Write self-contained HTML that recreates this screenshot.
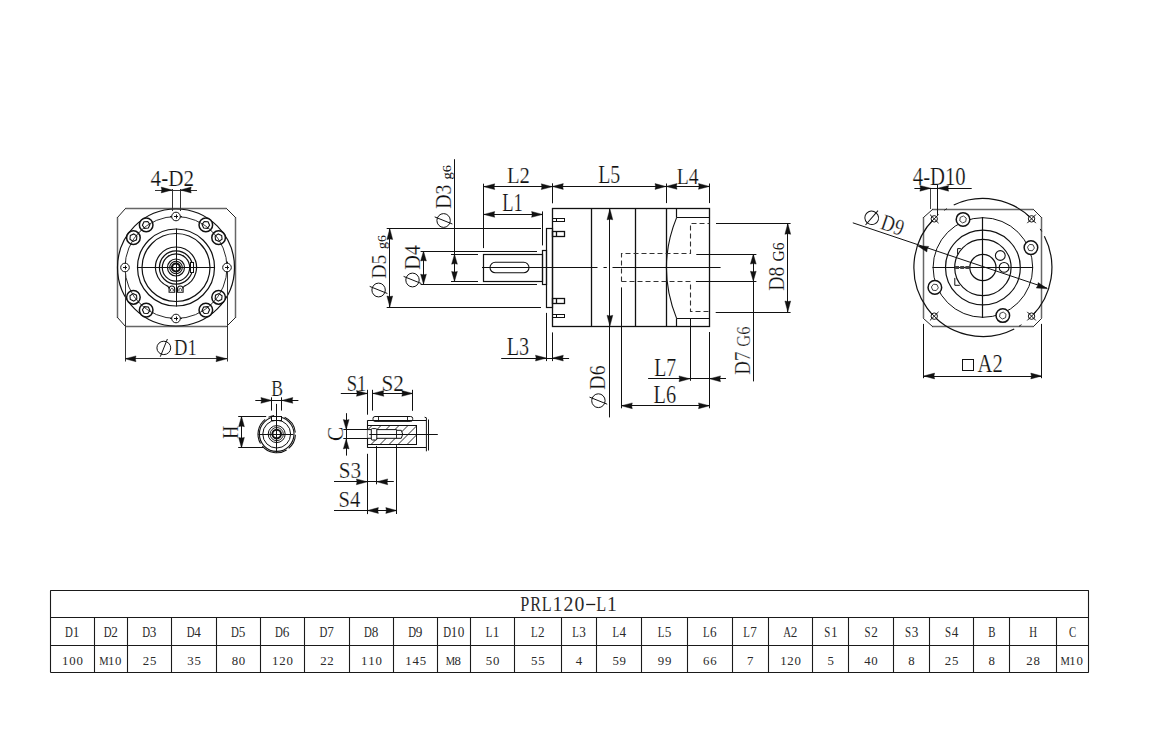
<!DOCTYPE html>
<html><head><meta charset="utf-8"><title>PRL120-L1</title>
<style>html,body{margin:0;padding:0;background:#fff;width:1161px;height:738px;overflow:hidden}svg{display:block}</style>
</head><body><svg width="1161" height="738" viewBox="0 0 1161 738"><line x1="125.50" y1="208.50" x2="226.50" y2="208.50" stroke="#666" stroke-width="1.5"/>
<line x1="125.50" y1="326.50" x2="226.50" y2="326.50" stroke="#666" stroke-width="1.5"/>
<line x1="117.50" y1="217.30" x2="117.50" y2="317.80" stroke="#666" stroke-width="1.5"/>
<line x1="235.50" y1="217.30" x2="235.50" y2="317.80" stroke="#666" stroke-width="1.5"/>
<line x1="125.5" y1="208.5" x2="117.5" y2="217.5" stroke="#222" stroke-width="1.0" stroke-linecap="round"/>
<line x1="226.5" y1="208.5" x2="235.5" y2="217.5" stroke="#222" stroke-width="1.0" stroke-linecap="round"/>
<line x1="117.5" y1="317.5" x2="125.5" y2="326.5" stroke="#222" stroke-width="1.0" stroke-linecap="round"/>
<line x1="235.5" y1="317.5" x2="226.5" y2="326.5" stroke="#222" stroke-width="1.0" stroke-linecap="round"/>
<circle cx="176.00" cy="267.50" r="58.50" fill="none" stroke="#111" stroke-width="1.2"/>
<circle cx="176.00" cy="267.50" r="51.00" fill="none" stroke="#111" stroke-width="0.9"/>
<circle cx="176.00" cy="267.50" r="38.50" fill="none" stroke="#111" stroke-width="1.2"/>
<circle cx="176.00" cy="267.50" r="34.00" fill="none" stroke="#111" stroke-width="1.2"/>
<circle cx="218.60" cy="297.33" r="6.80" fill="#fff" stroke="#111" stroke-width="1.5"/>
<polygon points="221.71,299.51 218.26,301.11 215.15,298.93 215.48,295.15 218.93,293.54 222.04,295.72" fill="none" stroke="#111" stroke-width="1.1"/>
<path d="M221.44,290.65 A51.00,51.00 0 0 1 213.30,302.28" fill="none" stroke="#111" stroke-width="0.8"/>
<circle cx="205.83" cy="310.10" r="6.80" fill="#fff" stroke="#111" stroke-width="1.5"/>
<polygon points="208.01,313.21 204.22,313.54 202.04,310.43 203.65,306.98 207.43,306.65 209.61,309.76" fill="none" stroke="#111" stroke-width="1.1"/>
<path d="M210.78,304.80 A51.00,51.00 0 0 1 199.15,312.94" fill="none" stroke="#111" stroke-width="0.8"/>
<circle cx="146.17" cy="310.10" r="6.80" fill="#fff" stroke="#111" stroke-width="1.5"/>
<polygon points="143.99,313.21 142.39,309.76 144.57,306.65 148.35,306.98 149.96,310.43 147.78,313.54" fill="none" stroke="#111" stroke-width="1.1"/>
<path d="M152.85,312.94 A51.00,51.00 0 0 1 141.22,304.80" fill="none" stroke="#111" stroke-width="0.8"/>
<circle cx="133.40" cy="297.33" r="6.80" fill="#fff" stroke="#111" stroke-width="1.5"/>
<polygon points="130.29,299.51 129.96,295.72 133.07,293.54 136.52,295.15 136.85,298.93 133.74,301.11" fill="none" stroke="#111" stroke-width="1.1"/>
<path d="M138.70,302.28 A51.00,51.00 0 0 1 130.56,290.65" fill="none" stroke="#111" stroke-width="0.8"/>
<circle cx="133.40" cy="237.67" r="6.80" fill="#fff" stroke="#111" stroke-width="1.5"/>
<polygon points="130.29,235.49 133.74,233.89 136.85,236.07 136.52,239.85 133.07,241.46 129.96,239.28" fill="none" stroke="#111" stroke-width="1.1"/>
<path d="M130.56,244.35 A51.00,51.00 0 0 1 138.70,232.72" fill="none" stroke="#111" stroke-width="0.8"/>
<circle cx="146.17" cy="224.90" r="6.80" fill="#fff" stroke="#111" stroke-width="1.5"/>
<polygon points="143.99,221.79 147.78,221.46 149.96,224.57 148.35,228.02 144.57,228.35 142.39,225.24" fill="none" stroke="#111" stroke-width="1.1"/>
<path d="M141.22,230.20 A51.00,51.00 0 0 1 152.85,222.06" fill="none" stroke="#111" stroke-width="0.8"/>
<circle cx="205.83" cy="224.90" r="6.80" fill="#fff" stroke="#111" stroke-width="1.5"/>
<polygon points="208.01,221.79 209.61,225.24 207.43,228.35 203.65,228.02 202.04,224.57 204.22,221.46" fill="none" stroke="#111" stroke-width="1.1"/>
<path d="M199.15,222.06 A51.00,51.00 0 0 1 210.78,230.20" fill="none" stroke="#111" stroke-width="0.8"/>
<circle cx="218.60" cy="237.67" r="6.80" fill="#fff" stroke="#111" stroke-width="1.5"/>
<polygon points="221.71,235.49 222.04,239.28 218.93,241.46 215.48,239.85 215.15,236.07 218.26,233.89" fill="none" stroke="#111" stroke-width="1.1"/>
<path d="M213.30,232.72 A51.00,51.00 0 0 1 221.44,244.35" fill="none" stroke="#111" stroke-width="0.8"/>
<circle cx="227.00" cy="267.50" r="4.30" fill="#fff" stroke="#111" stroke-width="1.0"/>
<line x1="225.00" y1="267.50" x2="229.00" y2="267.50" stroke="#111" stroke-width="1.0"/>
<line x1="227.50" y1="265.50" x2="227.50" y2="269.50" stroke="#111" stroke-width="1.0"/>
<line x1="227.50" y1="263.20" x2="227.50" y2="261.60" stroke="#111" stroke-width="1.0"/>
<line x1="227.50" y1="271.80" x2="227.50" y2="273.40" stroke="#111" stroke-width="1.0"/>
<circle cx="176.00" cy="318.50" r="4.30" fill="#fff" stroke="#111" stroke-width="1.0"/>
<line x1="174.00" y1="318.50" x2="178.00" y2="318.50" stroke="#111" stroke-width="1.0"/>
<line x1="176.50" y1="316.50" x2="176.50" y2="320.50" stroke="#111" stroke-width="1.0"/>
<line x1="180.30" y1="318.50" x2="181.90" y2="318.50" stroke="#111" stroke-width="1.0"/>
<line x1="171.70" y1="318.50" x2="170.10" y2="318.50" stroke="#111" stroke-width="1.0"/>
<circle cx="125.00" cy="267.50" r="4.30" fill="#fff" stroke="#111" stroke-width="1.0"/>
<line x1="123.00" y1="267.50" x2="127.00" y2="267.50" stroke="#111" stroke-width="1.0"/>
<line x1="125.50" y1="265.50" x2="125.50" y2="269.50" stroke="#111" stroke-width="1.0"/>
<line x1="125.50" y1="271.80" x2="125.50" y2="273.40" stroke="#111" stroke-width="1.0"/>
<line x1="125.50" y1="263.20" x2="125.50" y2="261.60" stroke="#111" stroke-width="1.0"/>
<circle cx="176.00" cy="216.50" r="4.30" fill="#fff" stroke="#111" stroke-width="1.0"/>
<line x1="174.00" y1="216.50" x2="178.00" y2="216.50" stroke="#111" stroke-width="1.0"/>
<line x1="176.50" y1="214.50" x2="176.50" y2="218.50" stroke="#111" stroke-width="1.0"/>
<line x1="171.70" y1="216.50" x2="170.10" y2="216.50" stroke="#111" stroke-width="1.0"/>
<line x1="180.30" y1="216.50" x2="181.90" y2="216.50" stroke="#111" stroke-width="1.0"/>
<path d="M167.99,286.37 A20.50,20.50 0 1 1 184.01,286.37" fill="none" stroke="#111" stroke-width="1.2"/>
<circle cx="176.00" cy="267.50" r="16.60" fill="none" stroke="#111" stroke-width="1.2"/>
<circle cx="176.00" cy="267.50" r="13.70" fill="none" stroke="#111" stroke-width="1.2"/>
<circle cx="176.00" cy="267.50" r="8.50" fill="none" stroke="#111" stroke-width="1.2"/>
<circle cx="176.00" cy="267.50" r="6.30" fill="none" stroke="#111" stroke-width="1.1"/>
<circle cx="176.00" cy="267.50" r="4.00" fill="none" stroke="#111" stroke-width="2.2"/>
<rect x="190.50" y="262.50" width="3.00" height="10.00" fill="#fff" stroke="#111" stroke-width="1.0"/>
<path d="M169.10,292.3 L169.10,289.0 Q169.10,286.0 171.90,286.0 Q174.70,286.0 174.70,289.0 L174.70,292.3 Z" fill="#fff" stroke="#111" stroke-width="1.1"/>
<path d="M170.50,291 L170.50,289.3 Q171.90,287.3 173.30,289.3 L173.30,291" fill="none" stroke="#111" stroke-width="0.8"/>
<path d="M177.50,292.3 L177.50,289.0 Q177.50,286.0 180.30,286.0 Q183.10,286.0 183.10,289.0 L183.10,292.3 Z" fill="#fff" stroke="#111" stroke-width="1.1"/>
<path d="M178.90,291 L178.90,289.3 Q180.30,287.3 181.70,289.3 L181.70,291" fill="none" stroke="#111" stroke-width="0.8"/>
<line x1="167.80" y1="286.10" x2="169.10" y2="288.50" stroke="#111" stroke-width="1.1"/>
<line x1="183.40" y1="286.10" x2="183.10" y2="288.50" stroke="#111" stroke-width="1.1"/>
<line x1="176.50" y1="228.50" x2="176.50" y2="306.50" stroke="#111" stroke-width="1.0"/>
<line x1="137.50" y1="267.50" x2="214.50" y2="267.50" stroke="#111" stroke-width="1.0"/>
<line x1="172.50" y1="189.00" x2="172.50" y2="211.00" stroke="#333" stroke-width="1.0"/>
<line x1="180.50" y1="189.00" x2="180.50" y2="211.00" stroke="#333" stroke-width="1.0"/>
<line x1="155.00" y1="190.50" x2="197.00" y2="190.50" stroke="#333" stroke-width="1.0"/>
<polygon points="172.20,190.00 161.20,192.90 161.80,190.00 161.20,187.10" fill="#111" stroke="#111" stroke-width="0.4"/>
<polygon points="180.20,190.00 191.20,187.10 190.60,190.00 191.20,192.90" fill="#111" stroke="#111" stroke-width="0.4"/>
<g transform="translate(150.58,185.94) rotate(0) scale(0.889,1)"><text x="0" y="0" font-family='"Liberation Serif", serif' font-size="23.76" fill="#111" stroke="#fff" stroke-width="0.22" text-anchor="start">4-D2</text></g>
<line x1="125.50" y1="271.00" x2="125.50" y2="361.50" stroke="#333" stroke-width="1.0"/>
<line x1="227.50" y1="271.00" x2="227.50" y2="361.50" stroke="#333" stroke-width="1.0"/>
<line x1="125.00" y1="358.50" x2="227.00" y2="358.50" stroke="#333" stroke-width="1.0"/>
<polygon points="125.00,358.80 136.00,355.90 135.40,358.80 136.00,361.70" fill="#111" stroke="#111" stroke-width="0.4"/>
<polygon points="227.00,358.80 216.00,361.70 216.60,358.80 216.00,355.90" fill="#111" stroke="#111" stroke-width="0.4"/>
<g transform="translate(163.80,347.90) rotate(0)"><ellipse cx="0" cy="0" rx="6.9" ry="6.7" fill="none" stroke="#111" stroke-width="1.0"/><line x1="-3.5" y1="8.8" x2="3.6" y2="-8.9" stroke="#111" stroke-width="1.0"/></g>
<g transform="translate(173.94,354.64) rotate(0) scale(0.786,1)"><text x="0" y="0" font-family='"Liberation Serif", serif' font-size="23.7" fill="#111" stroke="#fff" stroke-width="0.22" text-anchor="start">D1</text></g>
<rect x="483.50" y="254.50" width="59.00" height="27.00" fill="none" stroke="#111" stroke-width="1.2"/>
<rect x="490" y="262.3" width="39" height="10.5" rx="5.25" fill="none" stroke="#111" stroke-width="1.1"/>
<rect x="542.50" y="250.50" width="4.00" height="34.00" fill="none" stroke="#111" stroke-width="1.2"/>
<rect x="546.50" y="228.50" width="6.00" height="79.00" fill="none" stroke="#111" stroke-width="1.2"/>
<rect x="552.50" y="208.50" width="157.00" height="118.00" fill="none" stroke="#111" stroke-width="1.3"/>
<line x1="591.50" y1="208.80" x2="591.50" y2="326.30" stroke="#111" stroke-width="1.3"/>
<line x1="635.50" y1="208.80" x2="635.50" y2="326.30" stroke="#111" stroke-width="1.3"/>
<line x1="666.50" y1="208.80" x2="666.50" y2="326.30" stroke="#111" stroke-width="1.3"/>
<line x1="676.50" y1="208.80" x2="676.50" y2="217.60" stroke="#111" stroke-width="1.2"/>
<line x1="676.50" y1="318.40" x2="676.50" y2="326.30" stroke="#111" stroke-width="1.2"/>
<line x1="676.60" y1="217.50" x2="709.50" y2="217.50" stroke="#111" stroke-width="1.2"/>
<line x1="676.60" y1="318.50" x2="709.50" y2="318.50" stroke="#111" stroke-width="1.2"/>
<path d="M676.6,217.6 Q656.2,267.5 676.6,318.4" fill="none" stroke="#111" stroke-width="1.1"/>
<rect x="552.50" y="218.50" width="12.00" height="3.00" fill="none" stroke="#111" stroke-width="1.0"/>
<line x1="556.50" y1="218.20" x2="556.50" y2="221.40" stroke="#111" stroke-width="1.0"/>
<rect x="552.50" y="231.50" width="12.00" height="5.00" fill="none" stroke="#111" stroke-width="1.3"/>
<line x1="556.50" y1="231.40" x2="556.50" y2="236.30" stroke="#111" stroke-width="1.3"/>
<rect x="552.50" y="298.50" width="12.00" height="5.00" fill="none" stroke="#111" stroke-width="1.3"/>
<line x1="556.50" y1="298.70" x2="556.50" y2="303.60" stroke="#111" stroke-width="1.3"/>
<rect x="552.50" y="314.50" width="12.00" height="3.00" fill="none" stroke="#111" stroke-width="1.0"/>
<line x1="556.50" y1="314.40" x2="556.50" y2="317.40" stroke="#111" stroke-width="1.0"/>
<polyline points="621.50,281.50 621.50,253.50 690.50,253.50 690.50,223.50 709.50,223.50" fill="none" stroke="#333" stroke-width="1.1" stroke-dasharray="5,3"/>
<polyline points="621.50,281.50 690.50,281.50 690.50,311.50 709.50,311.50" fill="none" stroke="#333" stroke-width="1.1" stroke-dasharray="5,3"/>
<line x1="482.00" y1="267.50" x2="597.50" y2="267.50" stroke="#111" stroke-width="1.0"/>
<line x1="603.50" y1="267.50" x2="606.80" y2="267.50" stroke="#111" stroke-width="1.0"/>
<line x1="612.50" y1="267.50" x2="720.60" y2="267.50" stroke="#111" stroke-width="1.0"/>
<line x1="451.00" y1="254.50" x2="478.00" y2="254.50" stroke="#111" stroke-width="1.0"/>
<line x1="451.00" y1="281.50" x2="478.00" y2="281.50" stroke="#111" stroke-width="1.0"/>
<line x1="420.60" y1="251.50" x2="537.00" y2="251.50" stroke="#111" stroke-width="1.0"/>
<line x1="420.60" y1="284.50" x2="537.00" y2="284.50" stroke="#111" stroke-width="1.0"/>
<line x1="386.70" y1="228.50" x2="541.00" y2="228.50" stroke="#111" stroke-width="1.0"/>
<line x1="386.70" y1="307.50" x2="541.00" y2="307.50" stroke="#111" stroke-width="1.0"/>
<line x1="389.50" y1="228.50" x2="389.50" y2="307.00" stroke="#111" stroke-width="1.0"/>
<polygon points="389.80,228.50 392.70,239.50 389.80,238.90 386.90,239.50" fill="#111" stroke="#111" stroke-width="0.4"/>
<polygon points="389.80,307.00 386.90,296.00 389.80,296.60 392.70,296.00" fill="#111" stroke="#111" stroke-width="0.4"/>
<line x1="423.50" y1="251.00" x2="423.50" y2="284.20" stroke="#111" stroke-width="1.0"/>
<polygon points="423.50,251.00 426.40,261.00 423.50,260.40 420.60,261.00" fill="#111" stroke="#111" stroke-width="0.4"/>
<polygon points="423.50,284.20 420.60,274.20 423.50,274.80 426.40,274.20" fill="#111" stroke="#111" stroke-width="0.4"/>
<line x1="454.50" y1="159.20" x2="454.50" y2="281.50" stroke="#111" stroke-width="1.0"/>
<polygon points="454.50,254.20 457.40,264.20 454.50,263.60 451.60,264.20" fill="#111" stroke="#111" stroke-width="0.4"/>
<polygon points="454.50,281.40 451.60,271.40 454.50,272.00 457.40,271.40" fill="#111" stroke="#111" stroke-width="0.4"/>
<line x1="483.50" y1="183.70" x2="483.50" y2="248.10" stroke="#111" stroke-width="1.0"/>
<line x1="542.50" y1="211.40" x2="542.50" y2="245.40" stroke="#111" stroke-width="1.0"/>
<line x1="552.50" y1="183.30" x2="552.50" y2="203.30" stroke="#111" stroke-width="1.0"/>
<line x1="666.50" y1="183.50" x2="666.50" y2="203.10" stroke="#111" stroke-width="1.0"/>
<line x1="709.50" y1="183.50" x2="709.50" y2="203.10" stroke="#111" stroke-width="1.0"/>
<line x1="483.70" y1="186.50" x2="552.30" y2="186.50" stroke="#111" stroke-width="1.0"/>
<polygon points="483.70,186.70 494.70,183.80 494.10,186.70 494.70,189.60" fill="#111" stroke="#111" stroke-width="0.4"/>
<polygon points="552.30,186.70 541.30,189.60 541.90,186.70 541.30,183.80" fill="#111" stroke="#111" stroke-width="0.4"/>
<line x1="552.30" y1="186.50" x2="666.00" y2="186.50" stroke="#111" stroke-width="1.0"/>
<polygon points="552.30,186.50 563.30,183.60 562.70,186.50 563.30,189.40" fill="#111" stroke="#111" stroke-width="0.4"/>
<polygon points="666.00,186.50 655.00,189.40 655.60,186.50 655.00,183.60" fill="#111" stroke="#111" stroke-width="0.4"/>
<line x1="666.00" y1="186.50" x2="709.50" y2="186.50" stroke="#111" stroke-width="1.0"/>
<polygon points="666.00,186.40 677.00,183.50 676.40,186.40 677.00,189.30" fill="#111" stroke="#111" stroke-width="0.4"/>
<polygon points="709.50,186.40 698.50,189.30 699.10,186.40 698.50,183.50" fill="#111" stroke="#111" stroke-width="0.4"/>
<line x1="483.70" y1="214.50" x2="542.60" y2="214.50" stroke="#111" stroke-width="1.0"/>
<polygon points="483.70,214.40 494.70,211.50 494.10,214.40 494.70,217.30" fill="#111" stroke="#111" stroke-width="0.4"/>
<polygon points="542.60,214.40 531.60,217.30 532.20,214.40 531.60,211.50" fill="#111" stroke="#111" stroke-width="0.4"/>
<line x1="546.50" y1="312.90" x2="546.50" y2="361.10" stroke="#111" stroke-width="1.0"/>
<line x1="552.50" y1="332.40" x2="552.50" y2="361.10" stroke="#111" stroke-width="1.0"/>
<line x1="501.20" y1="358.50" x2="569.10" y2="358.50" stroke="#111" stroke-width="1.0"/>
<polygon points="546.50,358.10 535.50,361.00 536.10,358.10 535.50,355.20" fill="#111" stroke="#111" stroke-width="0.4"/>
<polygon points="552.30,358.10 563.30,355.20 562.70,358.10 563.30,361.00" fill="#111" stroke="#111" stroke-width="0.4"/>
<line x1="609.50" y1="208.80" x2="609.50" y2="417.40" stroke="#111" stroke-width="1.0"/>
<polygon points="609.90,208.80 612.80,219.80 609.90,219.20 607.00,219.80" fill="#111" stroke="#111" stroke-width="0.4"/>
<polygon points="609.90,326.30 607.00,315.30 609.90,315.90 612.80,315.30" fill="#111" stroke="#111" stroke-width="0.4"/>
<line x1="621.50" y1="287.40" x2="621.50" y2="408.30" stroke="#111" stroke-width="1.0"/>
<line x1="709.50" y1="332.00" x2="709.50" y2="408.30" stroke="#111" stroke-width="1.0"/>
<line x1="690.50" y1="318.40" x2="690.50" y2="380.80" stroke="#111" stroke-width="1.0"/>
<line x1="621.30" y1="405.50" x2="709.50" y2="405.50" stroke="#111" stroke-width="1.0"/>
<polygon points="621.30,405.80 632.30,402.90 631.70,405.80 632.30,408.70" fill="#111" stroke="#111" stroke-width="0.4"/>
<polygon points="709.50,405.80 698.50,408.70 699.10,405.80 698.50,402.90" fill="#111" stroke="#111" stroke-width="0.4"/>
<line x1="648.10" y1="378.50" x2="726.00" y2="378.50" stroke="#111" stroke-width="1.0"/>
<polygon points="690.00,378.80 679.00,381.70 679.60,378.80 679.00,375.90" fill="#111" stroke="#111" stroke-width="0.4"/>
<polygon points="709.50,378.80 720.50,375.90 719.90,378.80 720.50,381.70" fill="#111" stroke="#111" stroke-width="0.4"/>
<line x1="696.30" y1="254.50" x2="756.40" y2="254.50" stroke="#111" stroke-width="1.0"/>
<line x1="695.90" y1="281.50" x2="756.40" y2="281.50" stroke="#111" stroke-width="1.0"/>
<line x1="753.50" y1="254.10" x2="753.50" y2="381.40" stroke="#111" stroke-width="1.0"/>
<polygon points="753.30,254.10 756.20,264.10 753.30,263.50 750.40,264.10" fill="#111" stroke="#111" stroke-width="0.4"/>
<polygon points="753.30,281.20 750.40,271.20 753.30,271.80 756.20,271.20" fill="#111" stroke="#111" stroke-width="0.4"/>
<line x1="716.00" y1="223.50" x2="790.60" y2="223.50" stroke="#111" stroke-width="1.0"/>
<line x1="715.70" y1="312.50" x2="790.60" y2="312.50" stroke="#111" stroke-width="1.0"/>
<line x1="787.50" y1="223.30" x2="787.50" y2="312.00" stroke="#111" stroke-width="1.0"/>
<polygon points="787.80,223.30 790.70,234.30 787.80,233.70 784.90,234.30" fill="#111" stroke="#111" stroke-width="0.4"/>
<polygon points="787.80,312.00 784.90,301.00 787.80,301.60 790.70,301.00" fill="#111" stroke="#111" stroke-width="0.4"/>
<g transform="translate(506.88,183.40) rotate(0) scale(0.862,1)"><text x="0" y="0" font-family='"Liberation Serif", serif' font-size="24.0" fill="#111" stroke="#fff" stroke-width="0.22" text-anchor="start">L2</text></g>
<g transform="translate(502.14,211.40) rotate(0) scale(0.75,1)"><text x="0" y="0" font-family='"Liberation Serif", serif' font-size="24.7" fill="#111" stroke="#fff" stroke-width="0.22" text-anchor="start">L1</text></g>
<g transform="translate(598.20,183.26) rotate(0) scale(0.817,1)"><text x="0" y="0" font-family='"Liberation Serif", serif' font-size="24.36" fill="#111" stroke="#fff" stroke-width="0.22" text-anchor="start">L5</text></g>
<g transform="translate(676.71,183.50) rotate(0) scale(0.826,1)"><text x="0" y="0" font-family='"Liberation Serif", serif' font-size="23.88" fill="#111" stroke="#fff" stroke-width="0.22" text-anchor="start">L4</text></g>
<g transform="translate(506.79,355.45) rotate(0) scale(0.813,1)"><text x="0" y="0" font-family='"Liberation Serif", serif' font-size="24.83" fill="#111" stroke="#fff" stroke-width="0.22" text-anchor="start">L3</text></g>
<g transform="translate(654.21,375.70) rotate(0) scale(0.801,1)"><text x="0" y="0" font-family='"Liberation Serif", serif' font-size="24.73" fill="#111" stroke="#fff" stroke-width="0.22" text-anchor="start">L7</text></g>
<g transform="translate(653.59,402.96) rotate(0) scale(0.841,1)"><text x="0" y="0" font-family='"Liberation Serif", serif' font-size="24.24" fill="#111" stroke="#fff" stroke-width="0.22" text-anchor="start">L6</text></g>
<line x1="932.10" y1="209.50" x2="1033.50" y2="209.50" stroke="#666" stroke-width="1.5"/>
<line x1="932.10" y1="326.50" x2="1033.50" y2="326.50" stroke="#666" stroke-width="1.5"/>
<line x1="923.50" y1="217.30" x2="923.50" y2="318.00" stroke="#666" stroke-width="1.5"/>
<line x1="1041.50" y1="217.30" x2="1041.50" y2="318.00" stroke="#666" stroke-width="1.5"/>
<line x1="932.5" y1="209.5" x2="923.5" y2="217.5" stroke="#222" stroke-width="1.0" stroke-linecap="round"/>
<line x1="1033.5" y1="209.5" x2="1041.5" y2="217.5" stroke="#222" stroke-width="1.0" stroke-linecap="round"/>
<line x1="923.5" y1="318.5" x2="932.5" y2="326.5" stroke="#222" stroke-width="1.0" stroke-linecap="round"/>
<line x1="1041.5" y1="318.5" x2="1033.5" y2="326.5" stroke="#222" stroke-width="1.0" stroke-linecap="round"/>
<circle cx="982.90" cy="267.50" r="37.40" fill="none" stroke="#111" stroke-width="1.2"/>
<circle cx="982.90" cy="267.50" r="28.20" fill="none" stroke="#111" stroke-width="1.2"/>
<circle cx="982.90" cy="267.50" r="13.10" fill="none" stroke="#111" stroke-width="1.2"/>
<circle cx="982.90" cy="267.50" r="49.80" fill="none" stroke="#111" stroke-width="1.0"/>
<path d="M1014.23,328.98 A69.00,69.00 0 0 1 934.11,218.71" fill="none" stroke="#111" stroke-width="1.2"/>
<path d="M953.74,204.96 A69.00,69.00 0 0 1 1031.69,218.71" fill="none" stroke="#111" stroke-width="1.2"/>
<path d="M1044.38,236.17 A69.00,69.00 0 0 1 1031.69,316.29" fill="none" stroke="#111" stroke-width="1.2"/>
<path d="M944.32,210.30 A69.00,69.00 0 0 1 946.85,208.67" fill="none" stroke="#111" stroke-width="1.0"/>
<path d="M1040.10,228.92 A69.00,69.00 0 0 1 1041.73,231.45" fill="none" stroke="#111" stroke-width="1.0"/>
<path d="M1021.48,324.70 A69.00,69.00 0 0 1 1018.95,326.33" fill="none" stroke="#111" stroke-width="1.0"/>
<circle cx="1002.80" cy="315.54" r="6.80" fill="#fff" stroke="#111" stroke-width="1.5"/>
<polygon points="1002.34,319.01 999.57,316.88 1000.02,313.41 1003.26,312.07 1006.03,314.20 1005.58,317.67" fill="none" stroke="#111" stroke-width="0.8"/>
<circle cx="934.86" cy="287.40" r="6.80" fill="#fff" stroke="#111" stroke-width="1.5"/>
<polygon points="931.39,286.94 933.52,284.17 936.99,284.62 938.33,287.86 936.20,290.63 932.73,290.18" fill="none" stroke="#111" stroke-width="0.8"/>
<circle cx="963.00" cy="219.46" r="6.80" fill="#fff" stroke="#111" stroke-width="1.5"/>
<polygon points="963.46,215.99 966.23,218.12 965.78,221.59 962.54,222.93 959.77,220.80 960.22,217.33" fill="none" stroke="#111" stroke-width="0.8"/>
<circle cx="1030.94" cy="247.60" r="6.80" fill="#fff" stroke="#111" stroke-width="1.5"/>
<polygon points="1034.41,248.06 1032.28,250.83 1028.81,250.38 1027.47,247.14 1029.60,244.37 1033.07,244.82" fill="none" stroke="#111" stroke-width="0.8"/>
<circle cx="1031.55" cy="316.15" r="3.20" fill="#fff" stroke="#111" stroke-width="1.0"/>
<line x1="1027.25" y1="311.85" x2="1035.85" y2="320.45" stroke="#111" stroke-width="1.0"/>
<line x1="1027.25" y1="320.45" x2="1035.85" y2="311.85" stroke="#111" stroke-width="1.0"/>
<circle cx="934.25" cy="316.15" r="3.20" fill="#fff" stroke="#111" stroke-width="1.0"/>
<line x1="929.95" y1="311.85" x2="938.55" y2="320.45" stroke="#111" stroke-width="1.0"/>
<line x1="929.95" y1="320.45" x2="938.55" y2="311.85" stroke="#111" stroke-width="1.0"/>
<circle cx="934.25" cy="218.85" r="3.20" fill="#fff" stroke="#111" stroke-width="1.0"/>
<line x1="929.95" y1="214.55" x2="938.55" y2="223.15" stroke="#111" stroke-width="1.0"/>
<line x1="929.95" y1="223.15" x2="938.55" y2="214.55" stroke="#111" stroke-width="1.0"/>
<circle cx="1031.55" cy="218.85" r="3.20" fill="#fff" stroke="#111" stroke-width="1.0"/>
<line x1="1027.25" y1="214.55" x2="1035.85" y2="223.15" stroke="#111" stroke-width="1.0"/>
<line x1="1027.25" y1="223.15" x2="1035.85" y2="214.55" stroke="#111" stroke-width="1.0"/>
<circle cx="1000.30" cy="255.50" r="4.90" fill="none" stroke="#111" stroke-width="1.1"/>
<circle cx="1004.10" cy="267.40" r="4.90" fill="none" stroke="#111" stroke-width="1.1"/>
<line x1="982.50" y1="217.00" x2="982.50" y2="318.00" stroke="#111" stroke-width="1.1"/>
<line x1="932.50" y1="267.50" x2="1033.00" y2="267.50" stroke="#111" stroke-width="1.1"/>
<polyline points="960.80,248.60 957.60,248.60 957.60,254.50" fill="none" stroke="#111" stroke-width="1.0"/>
<polyline points="954.80,277.90 954.80,285.30 959.80,285.30" fill="none" stroke="#111" stroke-width="1.0"/>
<line x1="955.00" y1="267.50" x2="969.50" y2="267.50" stroke="#444" stroke-width="3.2" stroke-dasharray="4,1.2"/>
<line x1="982.50" y1="217.00" x2="982.50" y2="318.00" stroke="#111" stroke-width="1.1"/>
<line x1="852.80" y1="222.80" x2="1047.00" y2="288.10" stroke="#111" stroke-width="1.0"/>
<polygon points="917.40,245.70 928.75,246.45 927.26,249.01 926.90,251.95" fill="#111" stroke="#111" stroke-width="0.4"/>
<polygon points="1047.60,288.80 1036.25,288.05 1037.74,285.49 1038.10,282.55" fill="#111" stroke="#111" stroke-width="0.4"/>
<line x1="930.50" y1="188.00" x2="930.50" y2="209.00" stroke="#444" stroke-width="1.0"/>
<line x1="937.50" y1="185.00" x2="937.50" y2="215.00" stroke="#111" stroke-width="1.0"/>
<line x1="914.40" y1="188.50" x2="971.70" y2="188.50" stroke="#111" stroke-width="1.0"/>
<polygon points="930.90,188.30 919.90,191.20 920.50,188.30 919.90,185.40" fill="#111" stroke="#111" stroke-width="0.4"/>
<polygon points="937.60,188.30 948.60,185.40 948.00,188.30 948.60,191.20" fill="#111" stroke="#111" stroke-width="0.4"/>
<g transform="translate(912.79,185.36) rotate(0) scale(0.848,1)"><text x="0" y="0" font-family='"Liberation Serif", serif' font-size="24.44" fill="#111" stroke="#fff" stroke-width="0.22" text-anchor="start">4-D10</text></g>
<line x1="923.50" y1="323.90" x2="923.50" y2="378.20" stroke="#111" stroke-width="1.0"/>
<line x1="1041.50" y1="323.90" x2="1041.50" y2="378.20" stroke="#111" stroke-width="1.0"/>
<line x1="923.60" y1="376.50" x2="1041.80" y2="376.50" stroke="#111" stroke-width="1.0"/>
<polygon points="923.60,376.00 934.60,373.10 934.00,376.00 934.60,378.90" fill="#111" stroke="#111" stroke-width="0.4"/>
<polygon points="1041.80,376.00 1030.80,378.90 1031.40,376.00 1030.80,373.10" fill="#111" stroke="#111" stroke-width="0.4"/>
<rect x="962.50" y="359.50" width="11.00" height="11.00" fill="none" stroke="#111" stroke-width="1.0"/>
<g transform="translate(977.59,372.40) rotate(0) scale(0.844,1)"><text x="0" y="0" font-family='"Liberation Serif", serif' font-size="24.45" fill="#111" stroke="#fff" stroke-width="0.22" text-anchor="start">A2</text></g>
<circle cx="276.70" cy="434.10" r="17.30" fill="none" stroke="#111" stroke-width="1.1"/>
<circle cx="276.70" cy="434.10" r="13.90" fill="none" stroke="#111" stroke-width="1.0"/>
<circle cx="276.70" cy="434.10" r="8.50" fill="none" stroke="#111" stroke-width="1.0"/>
<circle cx="276.70" cy="434.10" r="6.60" fill="none" stroke="#111" stroke-width="0.9"/>
<circle cx="276.70" cy="434.10" r="4.30" fill="none" stroke="#111" stroke-width="2.0"/>
<path d="M260.51,443.45 A18.70,18.70 0 0 1 265.19,419.36" fill="none" stroke="#111" stroke-width="1.1"/>
<path d="M268.50,417.29 A18.70,18.70 0 0 1 274.10,415.58" fill="none" stroke="#111" stroke-width="1.1"/>
<path d="M284.60,417.15 A18.70,18.70 0 0 1 295.33,432.47" fill="none" stroke="#111" stroke-width="1.1"/>
<path d="M295.39,434.75 A18.70,18.70 0 0 1 288.72,448.43" fill="none" stroke="#111" stroke-width="1.1"/>
<path d="M286.61,449.96 A18.70,18.70 0 0 1 262.37,446.12" fill="none" stroke="#111" stroke-width="1.1"/>
<rect x="271.50" y="416.50" width="10.00" height="4.00" fill="#fff" stroke="#111" stroke-width="1.0"/>
<line x1="276.50" y1="403.90" x2="276.50" y2="452.70" stroke="#111" stroke-width="1.0"/>
<line x1="258.40" y1="434.50" x2="293.30" y2="434.50" stroke="#111" stroke-width="1.0"/>
<line x1="238.20" y1="416.50" x2="266.20" y2="416.50" stroke="#111" stroke-width="1.0"/>
<line x1="238.20" y1="447.50" x2="263.50" y2="447.50" stroke="#111" stroke-width="1.0"/>
<line x1="241.50" y1="416.20" x2="241.50" y2="447.90" stroke="#111" stroke-width="1.0"/>
<polygon points="241.50,416.20 244.40,426.70 241.50,426.10 238.60,426.70" fill="#111" stroke="#111" stroke-width="0.4"/>
<polygon points="241.50,447.90 238.60,437.40 241.50,438.00 244.40,437.40" fill="#111" stroke="#111" stroke-width="0.4"/>
<line x1="271.50" y1="397.30" x2="271.50" y2="410.60" stroke="#111" stroke-width="1.0"/>
<line x1="281.50" y1="397.30" x2="281.50" y2="410.60" stroke="#111" stroke-width="1.0"/>
<line x1="255.30" y1="400.50" x2="298.40" y2="400.50" stroke="#111" stroke-width="1.0"/>
<polygon points="271.90,400.40 260.90,403.30 261.50,400.40 260.90,397.50" fill="#111" stroke="#111" stroke-width="0.4"/>
<polygon points="281.80,400.40 292.80,397.50 292.20,400.40 292.80,403.30" fill="#111" stroke="#111" stroke-width="0.4"/>
<g transform="translate(271.37,396.24) rotate(0) scale(0.792,1)"><text x="0" y="0" font-family='"Liberation Serif", serif' font-size="22.36" fill="#111" stroke="#fff" stroke-width="0.22" text-anchor="start">B</text></g>
<g transform="translate(237.80,438.64) rotate(-90) scale(0.774,1)"><text x="0" y="0" font-family='"Liberation Serif", serif' font-size="23.21" fill="#111" stroke="#fff" stroke-width="0.22" text-anchor="start">H</text></g>
<line x1="367.50" y1="389.80" x2="367.50" y2="414.70" stroke="#111" stroke-width="1.0"/>
<line x1="367.50" y1="453.80" x2="367.50" y2="514.10" stroke="#111" stroke-width="1.0"/>
<line x1="372.50" y1="389.80" x2="372.50" y2="410.60" stroke="#111" stroke-width="1.0"/>
<line x1="412.50" y1="389.80" x2="412.50" y2="410.80" stroke="#111" stroke-width="1.0"/>
<line x1="340.80" y1="393.50" x2="367.50" y2="393.50" stroke="#111" stroke-width="1.0"/>
<polygon points="367.50,393.40 356.50,396.30 357.10,393.40 356.50,390.50" fill="#111" stroke="#111" stroke-width="0.4"/>
<line x1="372.80" y1="393.50" x2="412.80" y2="393.50" stroke="#111" stroke-width="1.0"/>
<polygon points="372.80,393.40 383.80,390.50 383.20,393.40 383.80,396.30" fill="#111" stroke="#111" stroke-width="0.4"/>
<polygon points="412.80,393.40 401.80,396.30 402.40,393.40 401.80,390.50" fill="#111" stroke="#111" stroke-width="0.4"/>
<g transform="translate(346.64,390.56) rotate(0) scale(0.774,1)"><text x="0" y="0" font-family='"Liberation Serif", serif' font-size="24.09" fill="#111" stroke="#fff" stroke-width="0.22" text-anchor="start">S1</text></g>
<g transform="translate(381.57,390.56) rotate(0) scale(0.881,1)"><text x="0" y="0" font-family='"Liberation Serif", serif' font-size="24.09" fill="#111" stroke="#fff" stroke-width="0.22" text-anchor="start">S2</text></g>
<rect x="373" y="416.5" width="39.7" height="4.9" rx="2" fill="#fff" stroke="#111" stroke-width="1.0"/>
<line x1="378.50" y1="416.50" x2="378.50" y2="421.40" stroke="#111" stroke-width="0.9"/>
<line x1="407.50" y1="416.50" x2="407.50" y2="421.40" stroke="#111" stroke-width="0.9"/>
<line x1="367.50" y1="420.50" x2="426.10" y2="420.50" stroke="#111" stroke-width="1.1"/>
<line x1="367.50" y1="447.50" x2="426.10" y2="447.50" stroke="#111" stroke-width="1.1"/>
<line x1="367.50" y1="420.30" x2="367.50" y2="447.80" stroke="#111" stroke-width="1.1"/>
<rect x="367.50" y="425.50" width="49.00" height="19.00" fill="none" stroke="#111" stroke-width="1.0"/>
<clipPath id="hc"><rect x="367.5" y="425.5" width="49.3" height="19"/></clipPath>
<g clip-path="url(#hc)"><line x1="353" y1="444.5" x2="372" y2="425.5" stroke="#111" stroke-width="0.9"/><line x1="362" y1="444.5" x2="381" y2="425.5" stroke="#111" stroke-width="0.9"/><line x1="371" y1="444.5" x2="390" y2="425.5" stroke="#111" stroke-width="0.9"/><line x1="380" y1="444.5" x2="399" y2="425.5" stroke="#111" stroke-width="0.9"/><line x1="389" y1="444.5" x2="408" y2="425.5" stroke="#111" stroke-width="0.9"/><line x1="398" y1="444.5" x2="417" y2="425.5" stroke="#111" stroke-width="0.9"/><line x1="407" y1="444.5" x2="426" y2="425.5" stroke="#111" stroke-width="0.9"/><line x1="416" y1="444.5" x2="435" y2="425.5" stroke="#111" stroke-width="0.9"/></g>
<path d="M367.5,429.6 L396.5,429.6 L396.5,430.3 L401.3,430.3 L402.7,434.3 L401.3,438.3 L367.5,438.3" fill="#fff" stroke="#111" stroke-width="1.0"/>
<line x1="396.50" y1="430.30" x2="396.50" y2="438.30" stroke="#111" stroke-width="0.9"/>
<rect x="371.3" y="428.6" width="5.5" height="11.4" rx="1" fill="#fff" stroke="#111" stroke-width="1.0"/>
<path d="M424.6,417.2 L426.4,417.8 L426.4,451.3" fill="none" stroke="#111" stroke-width="1.0"/>
<line x1="428.50" y1="419.50" x2="428.50" y2="450.50" stroke="#111" stroke-width="1.0"/>
<line x1="369.20" y1="434.50" x2="437.80" y2="434.50" stroke="#111" stroke-width="1.0"/>
<line x1="346.50" y1="413.20" x2="346.50" y2="455.60" stroke="#111" stroke-width="1.0"/>
<line x1="343.30" y1="429.50" x2="367.50" y2="429.50" stroke="#111" stroke-width="1.0"/>
<line x1="343.30" y1="438.50" x2="367.50" y2="438.50" stroke="#111" stroke-width="1.0"/>
<polygon points="346.20,429.60 343.30,419.60 346.20,420.20 349.10,419.60" fill="#111" stroke="#111" stroke-width="0.4"/>
<polygon points="346.20,438.90 349.10,448.90 346.20,448.30 343.30,448.90" fill="#111" stroke="#111" stroke-width="0.4"/>
<g transform="translate(342.56,440.95) rotate(-90) scale(0.885,1)"><text x="0" y="0" font-family='"Liberation Serif", serif' font-size="24.09" fill="#111" stroke="#fff" stroke-width="0.22" text-anchor="start">C</text></g>
<line x1="376.50" y1="445.90" x2="376.50" y2="484.30" stroke="#111" stroke-width="1.0"/>
<line x1="396.50" y1="445.20" x2="396.50" y2="514.00" stroke="#111" stroke-width="1.0"/>
<line x1="334.00" y1="481.50" x2="393.80" y2="481.50" stroke="#111" stroke-width="1.0"/>
<polygon points="367.40,481.80 356.40,484.70 357.00,481.80 356.40,478.90" fill="#111" stroke="#111" stroke-width="0.4"/>
<polygon points="376.70,481.80 387.70,478.90 387.10,481.80 387.70,484.70" fill="#111" stroke="#111" stroke-width="0.4"/>
<line x1="334.00" y1="510.50" x2="396.80" y2="510.50" stroke="#111" stroke-width="1.0"/>
<polygon points="367.40,510.50 378.40,507.60 377.80,510.50 378.40,513.40" fill="#111" stroke="#111" stroke-width="0.4"/>
<polygon points="396.80,510.50 385.80,513.40 386.40,510.50 385.80,507.60" fill="#111" stroke="#111" stroke-width="0.4"/>
<g transform="translate(338.67,477.97) rotate(0) scale(0.932,1)"><text x="0" y="0" font-family='"Liberation Serif", serif' font-size="22.75" fill="#111" stroke="#fff" stroke-width="0.22" text-anchor="start">S3</text></g>
<g transform="translate(338.61,506.57) rotate(0) scale(0.91,1)"><text x="0" y="0" font-family='"Liberation Serif", serif' font-size="22.6" fill="#111" stroke="#fff" stroke-width="0.22" text-anchor="start">S4</text></g>
<g transform="translate(385.88,278.69) rotate(-90) scale(0.901,1)"><text x="0" y="0" font-family='"Liberation Serif", serif' font-size="21.95" fill="#111" stroke="#fff" stroke-width="0.22" text-anchor="start">D5</text></g>
<g transform="translate(378.60,290.00) rotate(-90)"><ellipse cx="0" cy="0" rx="6.9" ry="6.7" fill="none" stroke="#111" stroke-width="1.0"/><line x1="-3.5" y1="8.8" x2="3.6" y2="-8.9" stroke="#111" stroke-width="1.0"/></g>
<g transform="translate(385.78,248.90) rotate(-90) scale(1.194,1)"><text x="0" y="0" font-family='"Liberation Serif", serif' font-size="11.74" fill="#111" stroke="#fff" stroke-width="0" text-anchor="start">g6</text></g>
<g transform="translate(419.94,269.70) rotate(-90) scale(0.852,1)"><text x="0" y="0" font-family='"Liberation Serif", serif' font-size="23.64" fill="#111" stroke="#fff" stroke-width="0.22" text-anchor="start">D4</text></g>
<g transform="translate(412.50,280.00) rotate(-90)"><ellipse cx="0" cy="0" rx="6.9" ry="6.7" fill="none" stroke="#111" stroke-width="1.0"/><line x1="-3.5" y1="8.8" x2="3.6" y2="-8.9" stroke="#111" stroke-width="1.0"/></g>
<g transform="translate(450.88,208.69) rotate(-90) scale(0.881,1)"><text x="0" y="0" font-family='"Liberation Serif", serif' font-size="22.45" fill="#111" stroke="#fff" stroke-width="0.22" text-anchor="start">D3</text></g>
<g transform="translate(443.60,220.50) rotate(-90)"><ellipse cx="0" cy="0" rx="6.9" ry="6.7" fill="none" stroke="#111" stroke-width="1.0"/><line x1="-3.5" y1="8.8" x2="3.6" y2="-8.9" stroke="#111" stroke-width="1.0"/></g>
<g transform="translate(450.78,179.42) rotate(-90) scale(1.24,1)"><text x="0" y="0" font-family='"Liberation Serif", serif' font-size="11.74" fill="#111" stroke="#fff" stroke-width="0" text-anchor="start">g6</text></g>
<g transform="translate(605.47,389.70) rotate(-90) scale(0.868,1)"><text x="0" y="0" font-family='"Liberation Serif", serif' font-size="22.9" fill="#111" stroke="#fff" stroke-width="0.22" text-anchor="start">D6</text></g>
<g transform="translate(598.40,400.70) rotate(-90)"><ellipse cx="0" cy="0" rx="6.9" ry="6.7" fill="none" stroke="#111" stroke-width="1.0"/><line x1="-3.5" y1="8.8" x2="3.6" y2="-8.9" stroke="#111" stroke-width="1.0"/></g>
<g transform="translate(749.84,374.67) rotate(-90) scale(0.83,1)"><text x="0" y="0" font-family='"Liberation Serif", serif' font-size="22.81" fill="#111" stroke="#fff" stroke-width="0.22" text-anchor="start">D7</text></g>
<g transform="translate(749.72,346.66) rotate(-90) scale(0.914,1)"><text x="0" y="0" font-family='"Liberation Serif", serif' font-size="18.14" fill="#111" stroke="#fff" stroke-width="0.22" text-anchor="start">G6</text></g>
<g transform="translate(784.18,290.69) rotate(-90) scale(0.882,1)"><text x="0" y="0" font-family='"Liberation Serif", serif' font-size="22.37" fill="#111" stroke="#fff" stroke-width="0.22" text-anchor="start">D8</text></g>
<g transform="translate(784.23,261.42) rotate(-90) scale(0.916,1)"><text x="0" y="0" font-family='"Liberation Serif", serif' font-size="16.95" fill="#111" stroke="#fff" stroke-width="0" text-anchor="start">G6</text></g>
<g transform="translate(871.70,217.80) rotate(19)"><ellipse cx="0" cy="0" rx="6.9" ry="6.7" fill="none" stroke="#111" stroke-width="1.0"/><line x1="-3.5" y1="8.8" x2="3.6" y2="-8.9" stroke="#111" stroke-width="1.0"/></g>
<g transform="translate(879.60,228.60) rotate(19) scale(0.8,1)"><text x="0" y="0" font-family='"Liberation Serif", serif' font-size="23" fill="#111" stroke="#fff" stroke-width="0.22" text-anchor="start">D9</text></g>
<line x1="50.30" y1="590.50" x2="1088.80" y2="590.50" stroke="#1a1a1a" stroke-width="1.1"/>
<line x1="50.30" y1="617.50" x2="1088.80" y2="617.50" stroke="#1a1a1a" stroke-width="1.1"/>
<line x1="50.30" y1="645.50" x2="1088.80" y2="645.50" stroke="#1a1a1a" stroke-width="1.1"/>
<line x1="50.30" y1="672.50" x2="1088.80" y2="672.50" stroke="#1a1a1a" stroke-width="1.1"/>
<line x1="50.50" y1="590.40" x2="50.50" y2="672.20" stroke="#1a1a1a" stroke-width="1.1"/>
<line x1="1088.50" y1="590.40" x2="1088.50" y2="672.20" stroke="#1a1a1a" stroke-width="1.1"/>
<line x1="94.50" y1="617.40" x2="94.50" y2="672.20" stroke="#1a1a1a" stroke-width="1.1"/>
<line x1="127.50" y1="617.40" x2="127.50" y2="672.20" stroke="#1a1a1a" stroke-width="1.1"/>
<line x1="171.50" y1="617.40" x2="171.50" y2="672.20" stroke="#1a1a1a" stroke-width="1.1"/>
<line x1="216.50" y1="617.40" x2="216.50" y2="672.20" stroke="#1a1a1a" stroke-width="1.1"/>
<line x1="260.50" y1="617.40" x2="260.50" y2="672.20" stroke="#1a1a1a" stroke-width="1.1"/>
<line x1="304.50" y1="617.40" x2="304.50" y2="672.20" stroke="#1a1a1a" stroke-width="1.1"/>
<line x1="349.50" y1="617.40" x2="349.50" y2="672.20" stroke="#1a1a1a" stroke-width="1.1"/>
<line x1="393.50" y1="617.40" x2="393.50" y2="672.20" stroke="#1a1a1a" stroke-width="1.1"/>
<line x1="437.50" y1="617.40" x2="437.50" y2="672.20" stroke="#1a1a1a" stroke-width="1.1"/>
<line x1="470.50" y1="617.40" x2="470.50" y2="672.20" stroke="#1a1a1a" stroke-width="1.1"/>
<line x1="514.50" y1="617.40" x2="514.50" y2="672.20" stroke="#1a1a1a" stroke-width="1.1"/>
<line x1="561.50" y1="617.40" x2="561.50" y2="672.20" stroke="#1a1a1a" stroke-width="1.1"/>
<line x1="596.50" y1="617.40" x2="596.50" y2="672.20" stroke="#1a1a1a" stroke-width="1.1"/>
<line x1="641.50" y1="617.40" x2="641.50" y2="672.20" stroke="#1a1a1a" stroke-width="1.1"/>
<line x1="687.50" y1="617.40" x2="687.50" y2="672.20" stroke="#1a1a1a" stroke-width="1.1"/>
<line x1="732.50" y1="617.40" x2="732.50" y2="672.20" stroke="#1a1a1a" stroke-width="1.1"/>
<line x1="768.50" y1="617.40" x2="768.50" y2="672.20" stroke="#1a1a1a" stroke-width="1.1"/>
<line x1="812.50" y1="617.40" x2="812.50" y2="672.20" stroke="#1a1a1a" stroke-width="1.1"/>
<line x1="848.50" y1="617.40" x2="848.50" y2="672.20" stroke="#1a1a1a" stroke-width="1.1"/>
<line x1="893.50" y1="617.40" x2="893.50" y2="672.20" stroke="#1a1a1a" stroke-width="1.1"/>
<line x1="929.50" y1="617.40" x2="929.50" y2="672.20" stroke="#1a1a1a" stroke-width="1.1"/>
<line x1="973.50" y1="617.40" x2="973.50" y2="672.20" stroke="#1a1a1a" stroke-width="1.1"/>
<line x1="1009.50" y1="617.40" x2="1009.50" y2="672.20" stroke="#1a1a1a" stroke-width="1.1"/>
<line x1="1056.50" y1="617.40" x2="1056.50" y2="672.20" stroke="#1a1a1a" stroke-width="1.1"/>
<g font-family='"Liberation Serif", serif' font-size="13.9" fill="#2a2a2a"><g transform="translate(69.00,637.00) scale(0.78,1)"><text x="0" y="0" text-anchor="middle">D</text></g><g transform="translate(76.00,637.00) scale(0.95,1)"><text x="0" y="0" text-anchor="middle">1</text></g></g>
<g font-family='"Liberation Serif", serif' font-size="13.5" fill="#2a2a2a"><g transform="translate(65.30,664.50) scale(0.95,1)"><text x="0" y="0" text-anchor="middle">1</text></g><g transform="translate(72.50,664.50) scale(0.95,1)"><text x="0" y="0" text-anchor="middle">0</text></g><g transform="translate(79.70,664.50) scale(0.95,1)"><text x="0" y="0" text-anchor="middle">0</text></g></g>
<g font-family='"Liberation Serif", serif' font-size="13.9" fill="#2a2a2a"><g transform="translate(107.60,637.00) scale(0.78,1)"><text x="0" y="0" text-anchor="middle">D</text></g><g transform="translate(114.60,637.00) scale(0.95,1)"><text x="0" y="0" text-anchor="middle">2</text></g></g>
<g font-family='"Liberation Serif", serif' font-size="13.5" fill="#2a2a2a"><g transform="translate(103.90,664.50) scale(0.78,1)"><text x="0" y="0" text-anchor="middle">M</text></g><g transform="translate(111.10,664.50) scale(0.95,1)"><text x="0" y="0" text-anchor="middle">1</text></g><g transform="translate(118.30,664.50) scale(0.95,1)"><text x="0" y="0" text-anchor="middle">0</text></g></g>
<g font-family='"Liberation Serif", serif' font-size="13.9" fill="#2a2a2a"><g transform="translate(146.15,637.00) scale(0.78,1)"><text x="0" y="0" text-anchor="middle">D</text></g><g transform="translate(153.15,637.00) scale(0.95,1)"><text x="0" y="0" text-anchor="middle">3</text></g></g>
<g font-family='"Liberation Serif", serif' font-size="13.5" fill="#2a2a2a"><g transform="translate(146.05,664.50) scale(0.95,1)"><text x="0" y="0" text-anchor="middle">2</text></g><g transform="translate(153.25,664.50) scale(0.95,1)"><text x="0" y="0" text-anchor="middle">5</text></g></g>
<g font-family='"Liberation Serif", serif' font-size="13.9" fill="#2a2a2a"><g transform="translate(190.60,637.00) scale(0.78,1)"><text x="0" y="0" text-anchor="middle">D</text></g><g transform="translate(197.60,637.00) scale(0.95,1)"><text x="0" y="0" text-anchor="middle">4</text></g></g>
<g font-family='"Liberation Serif", serif' font-size="13.5" fill="#2a2a2a"><g transform="translate(190.50,664.50) scale(0.95,1)"><text x="0" y="0" text-anchor="middle">3</text></g><g transform="translate(197.70,664.50) scale(0.95,1)"><text x="0" y="0" text-anchor="middle">5</text></g></g>
<g font-family='"Liberation Serif", serif' font-size="13.9" fill="#2a2a2a"><g transform="translate(234.95,637.00) scale(0.78,1)"><text x="0" y="0" text-anchor="middle">D</text></g><g transform="translate(241.95,637.00) scale(0.95,1)"><text x="0" y="0" text-anchor="middle">5</text></g></g>
<g font-family='"Liberation Serif", serif' font-size="13.5" fill="#2a2a2a"><g transform="translate(234.85,664.50) scale(0.95,1)"><text x="0" y="0" text-anchor="middle">8</text></g><g transform="translate(242.05,664.50) scale(0.95,1)"><text x="0" y="0" text-anchor="middle">0</text></g></g>
<g font-family='"Liberation Serif", serif' font-size="13.9" fill="#2a2a2a"><g transform="translate(279.00,637.00) scale(0.78,1)"><text x="0" y="0" text-anchor="middle">D</text></g><g transform="translate(286.00,637.00) scale(0.95,1)"><text x="0" y="0" text-anchor="middle">6</text></g></g>
<g font-family='"Liberation Serif", serif' font-size="13.5" fill="#2a2a2a"><g transform="translate(275.30,664.50) scale(0.95,1)"><text x="0" y="0" text-anchor="middle">1</text></g><g transform="translate(282.50,664.50) scale(0.95,1)"><text x="0" y="0" text-anchor="middle">2</text></g><g transform="translate(289.70,664.50) scale(0.95,1)"><text x="0" y="0" text-anchor="middle">0</text></g></g>
<g font-family='"Liberation Serif", serif' font-size="13.9" fill="#2a2a2a"><g transform="translate(323.45,637.00) scale(0.78,1)"><text x="0" y="0" text-anchor="middle">D</text></g><g transform="translate(330.45,637.00) scale(0.95,1)"><text x="0" y="0" text-anchor="middle">7</text></g></g>
<g font-family='"Liberation Serif", serif' font-size="13.5" fill="#2a2a2a"><g transform="translate(323.35,664.50) scale(0.95,1)"><text x="0" y="0" text-anchor="middle">2</text></g><g transform="translate(330.55,664.50) scale(0.95,1)"><text x="0" y="0" text-anchor="middle">2</text></g></g>
<g font-family='"Liberation Serif", serif' font-size="13.9" fill="#2a2a2a"><g transform="translate(368.00,637.00) scale(0.78,1)"><text x="0" y="0" text-anchor="middle">D</text></g><g transform="translate(375.00,637.00) scale(0.95,1)"><text x="0" y="0" text-anchor="middle">8</text></g></g>
<g font-family='"Liberation Serif", serif' font-size="13.5" fill="#2a2a2a"><g transform="translate(364.30,664.50) scale(0.95,1)"><text x="0" y="0" text-anchor="middle">1</text></g><g transform="translate(371.50,664.50) scale(0.95,1)"><text x="0" y="0" text-anchor="middle">1</text></g><g transform="translate(378.70,664.50) scale(0.95,1)"><text x="0" y="0" text-anchor="middle">0</text></g></g>
<g font-family='"Liberation Serif", serif' font-size="13.9" fill="#2a2a2a"><g transform="translate(412.15,637.00) scale(0.78,1)"><text x="0" y="0" text-anchor="middle">D</text></g><g transform="translate(419.15,637.00) scale(0.95,1)"><text x="0" y="0" text-anchor="middle">9</text></g></g>
<g font-family='"Liberation Serif", serif' font-size="13.5" fill="#2a2a2a"><g transform="translate(408.45,664.50) scale(0.95,1)"><text x="0" y="0" text-anchor="middle">1</text></g><g transform="translate(415.65,664.50) scale(0.95,1)"><text x="0" y="0" text-anchor="middle">4</text></g><g transform="translate(422.85,664.50) scale(0.95,1)"><text x="0" y="0" text-anchor="middle">5</text></g></g>
<g font-family='"Liberation Serif", serif' font-size="13.9" fill="#2a2a2a"><g transform="translate(447.05,637.00) scale(0.78,1)"><text x="0" y="0" text-anchor="middle">D</text></g><g transform="translate(454.05,637.00) scale(0.95,1)"><text x="0" y="0" text-anchor="middle">1</text></g><g transform="translate(461.05,637.00) scale(0.95,1)"><text x="0" y="0" text-anchor="middle">0</text></g></g>
<g font-family='"Liberation Serif", serif' font-size="13.5" fill="#2a2a2a"><g transform="translate(450.45,664.50) scale(0.78,1)"><text x="0" y="0" text-anchor="middle">M</text></g><g transform="translate(457.65,664.50) scale(0.95,1)"><text x="0" y="0" text-anchor="middle">8</text></g></g>
<g font-family='"Liberation Serif", serif' font-size="13.9" fill="#2a2a2a"><g transform="translate(489.00,637.00) scale(0.78,1)"><text x="0" y="0" text-anchor="middle">L</text></g><g transform="translate(496.00,637.00) scale(0.95,1)"><text x="0" y="0" text-anchor="middle">1</text></g></g>
<g font-family='"Liberation Serif", serif' font-size="13.5" fill="#2a2a2a"><g transform="translate(488.90,664.50) scale(0.95,1)"><text x="0" y="0" text-anchor="middle">5</text></g><g transform="translate(496.10,664.50) scale(0.95,1)"><text x="0" y="0" text-anchor="middle">0</text></g></g>
<g font-family='"Liberation Serif", serif' font-size="13.9" fill="#2a2a2a"><g transform="translate(534.40,637.00) scale(0.78,1)"><text x="0" y="0" text-anchor="middle">L</text></g><g transform="translate(541.40,637.00) scale(0.95,1)"><text x="0" y="0" text-anchor="middle">2</text></g></g>
<g font-family='"Liberation Serif", serif' font-size="13.5" fill="#2a2a2a"><g transform="translate(534.30,664.50) scale(0.95,1)"><text x="0" y="0" text-anchor="middle">5</text></g><g transform="translate(541.50,664.50) scale(0.95,1)"><text x="0" y="0" text-anchor="middle">5</text></g></g>
<g font-family='"Liberation Serif", serif' font-size="13.9" fill="#2a2a2a"><g transform="translate(575.50,637.00) scale(0.78,1)"><text x="0" y="0" text-anchor="middle">L</text></g><g transform="translate(582.50,637.00) scale(0.95,1)"><text x="0" y="0" text-anchor="middle">3</text></g></g>
<g font-family='"Liberation Serif", serif' font-size="13.5" fill="#2a2a2a"><g transform="translate(579.00,664.50) scale(0.95,1)"><text x="0" y="0" text-anchor="middle">4</text></g></g>
<g font-family='"Liberation Serif", serif' font-size="13.9" fill="#2a2a2a"><g transform="translate(615.70,637.00) scale(0.78,1)"><text x="0" y="0" text-anchor="middle">L</text></g><g transform="translate(622.70,637.00) scale(0.95,1)"><text x="0" y="0" text-anchor="middle">4</text></g></g>
<g font-family='"Liberation Serif", serif' font-size="13.5" fill="#2a2a2a"><g transform="translate(615.60,664.50) scale(0.95,1)"><text x="0" y="0" text-anchor="middle">5</text></g><g transform="translate(622.80,664.50) scale(0.95,1)"><text x="0" y="0" text-anchor="middle">9</text></g></g>
<g font-family='"Liberation Serif", serif' font-size="13.9" fill="#2a2a2a"><g transform="translate(661.05,637.00) scale(0.78,1)"><text x="0" y="0" text-anchor="middle">L</text></g><g transform="translate(668.05,637.00) scale(0.95,1)"><text x="0" y="0" text-anchor="middle">5</text></g></g>
<g font-family='"Liberation Serif", serif' font-size="13.5" fill="#2a2a2a"><g transform="translate(660.95,664.50) scale(0.95,1)"><text x="0" y="0" text-anchor="middle">9</text></g><g transform="translate(668.15,664.50) scale(0.95,1)"><text x="0" y="0" text-anchor="middle">9</text></g></g>
<g font-family='"Liberation Serif", serif' font-size="13.9" fill="#2a2a2a"><g transform="translate(706.25,637.00) scale(0.78,1)"><text x="0" y="0" text-anchor="middle">L</text></g><g transform="translate(713.25,637.00) scale(0.95,1)"><text x="0" y="0" text-anchor="middle">6</text></g></g>
<g font-family='"Liberation Serif", serif' font-size="13.5" fill="#2a2a2a"><g transform="translate(706.15,664.50) scale(0.95,1)"><text x="0" y="0" text-anchor="middle">6</text></g><g transform="translate(713.35,664.50) scale(0.95,1)"><text x="0" y="0" text-anchor="middle">6</text></g></g>
<g font-family='"Liberation Serif", serif' font-size="13.9" fill="#2a2a2a"><g transform="translate(746.65,637.00) scale(0.78,1)"><text x="0" y="0" text-anchor="middle">L</text></g><g transform="translate(753.65,637.00) scale(0.95,1)"><text x="0" y="0" text-anchor="middle">7</text></g></g>
<g font-family='"Liberation Serif", serif' font-size="13.5" fill="#2a2a2a"><g transform="translate(750.15,664.50) scale(0.95,1)"><text x="0" y="0" text-anchor="middle">7</text></g></g>
<g font-family='"Liberation Serif", serif' font-size="13.9" fill="#2a2a2a"><g transform="translate(787.05,637.00) scale(0.78,1)"><text x="0" y="0" text-anchor="middle">A</text></g><g transform="translate(794.05,637.00) scale(0.95,1)"><text x="0" y="0" text-anchor="middle">2</text></g></g>
<g font-family='"Liberation Serif", serif' font-size="13.5" fill="#2a2a2a"><g transform="translate(783.35,664.50) scale(0.95,1)"><text x="0" y="0" text-anchor="middle">1</text></g><g transform="translate(790.55,664.50) scale(0.95,1)"><text x="0" y="0" text-anchor="middle">2</text></g><g transform="translate(797.75,664.50) scale(0.95,1)"><text x="0" y="0" text-anchor="middle">0</text></g></g>
<g font-family='"Liberation Serif", serif' font-size="13.9" fill="#2a2a2a"><g transform="translate(827.20,637.00) scale(0.78,1)"><text x="0" y="0" text-anchor="middle">S</text></g><g transform="translate(834.20,637.00) scale(0.95,1)"><text x="0" y="0" text-anchor="middle">1</text></g></g>
<g font-family='"Liberation Serif", serif' font-size="13.5" fill="#2a2a2a"><g transform="translate(830.70,664.50) scale(0.95,1)"><text x="0" y="0" text-anchor="middle">5</text></g></g>
<g font-family='"Liberation Serif", serif' font-size="13.9" fill="#2a2a2a"><g transform="translate(867.45,637.00) scale(0.78,1)"><text x="0" y="0" text-anchor="middle">S</text></g><g transform="translate(874.45,637.00) scale(0.95,1)"><text x="0" y="0" text-anchor="middle">2</text></g></g>
<g font-family='"Liberation Serif", serif' font-size="13.5" fill="#2a2a2a"><g transform="translate(867.35,664.50) scale(0.95,1)"><text x="0" y="0" text-anchor="middle">4</text></g><g transform="translate(874.55,664.50) scale(0.95,1)"><text x="0" y="0" text-anchor="middle">0</text></g></g>
<g font-family='"Liberation Serif", serif' font-size="13.9" fill="#2a2a2a"><g transform="translate(907.95,637.00) scale(0.78,1)"><text x="0" y="0" text-anchor="middle">S</text></g><g transform="translate(914.95,637.00) scale(0.95,1)"><text x="0" y="0" text-anchor="middle">3</text></g></g>
<g font-family='"Liberation Serif", serif' font-size="13.5" fill="#2a2a2a"><g transform="translate(911.45,664.50) scale(0.95,1)"><text x="0" y="0" text-anchor="middle">8</text></g></g>
<g font-family='"Liberation Serif", serif' font-size="13.9" fill="#2a2a2a"><g transform="translate(948.10,637.00) scale(0.78,1)"><text x="0" y="0" text-anchor="middle">S</text></g><g transform="translate(955.10,637.00) scale(0.95,1)"><text x="0" y="0" text-anchor="middle">4</text></g></g>
<g font-family='"Liberation Serif", serif' font-size="13.5" fill="#2a2a2a"><g transform="translate(948.00,664.50) scale(0.95,1)"><text x="0" y="0" text-anchor="middle">2</text></g><g transform="translate(955.20,664.50) scale(0.95,1)"><text x="0" y="0" text-anchor="middle">5</text></g></g>
<g font-family='"Liberation Serif", serif' font-size="13.9" fill="#2a2a2a"><g transform="translate(991.75,637.00) scale(0.78,1)"><text x="0" y="0" text-anchor="middle">B</text></g></g>
<g font-family='"Liberation Serif", serif' font-size="13.5" fill="#2a2a2a"><g transform="translate(991.75,664.50) scale(0.95,1)"><text x="0" y="0" text-anchor="middle">8</text></g></g>
<g font-family='"Liberation Serif", serif' font-size="13.9" fill="#2a2a2a"><g transform="translate(1033.05,637.00) scale(0.78,1)"><text x="0" y="0" text-anchor="middle">H</text></g></g>
<g font-family='"Liberation Serif", serif' font-size="13.5" fill="#2a2a2a"><g transform="translate(1029.45,664.50) scale(0.95,1)"><text x="0" y="0" text-anchor="middle">2</text></g><g transform="translate(1036.65,664.50) scale(0.95,1)"><text x="0" y="0" text-anchor="middle">8</text></g></g>
<g font-family='"Liberation Serif", serif' font-size="13.9" fill="#2a2a2a"><g transform="translate(1072.50,637.00) scale(0.78,1)"><text x="0" y="0" text-anchor="middle">C</text></g></g>
<g font-family='"Liberation Serif", serif' font-size="13.5" fill="#2a2a2a"><g transform="translate(1065.30,664.50) scale(0.78,1)"><text x="0" y="0" text-anchor="middle">M</text></g><g transform="translate(1072.50,664.50) scale(0.95,1)"><text x="0" y="0" text-anchor="middle">1</text></g><g transform="translate(1079.70,664.50) scale(0.95,1)"><text x="0" y="0" text-anchor="middle">0</text></g></g>
<g font-family='"Liberation Serif", serif' font-size="20.8" fill="#2a2a2a"><g transform="translate(524.85,610.90) scale(0.78,1)"><text x="0" y="0" text-anchor="middle">P</text></g><g transform="translate(535.75,610.90) scale(0.78,1)"><text x="0" y="0" text-anchor="middle">R</text></g><g transform="translate(546.65,610.90) scale(0.78,1)"><text x="0" y="0" text-anchor="middle">L</text></g><g transform="translate(557.55,610.90) scale(0.95,1)"><text x="0" y="0" text-anchor="middle">1</text></g><g transform="translate(568.45,610.90) scale(0.95,1)"><text x="0" y="0" text-anchor="middle">2</text></g><g transform="translate(579.35,610.90) scale(0.95,1)"><text x="0" y="0" text-anchor="middle">0</text></g><g transform="translate(601.15,610.90) scale(0.78,1)"><text x="0" y="0" text-anchor="middle">L</text></g><g transform="translate(612.05,610.90) scale(0.95,1)"><text x="0" y="0" text-anchor="middle">1</text></g></g>
<line x1="586.20" y1="604.50" x2="595.30" y2="604.50" stroke="#1a1a1a" stroke-width="1.3"/></svg></body></html>
